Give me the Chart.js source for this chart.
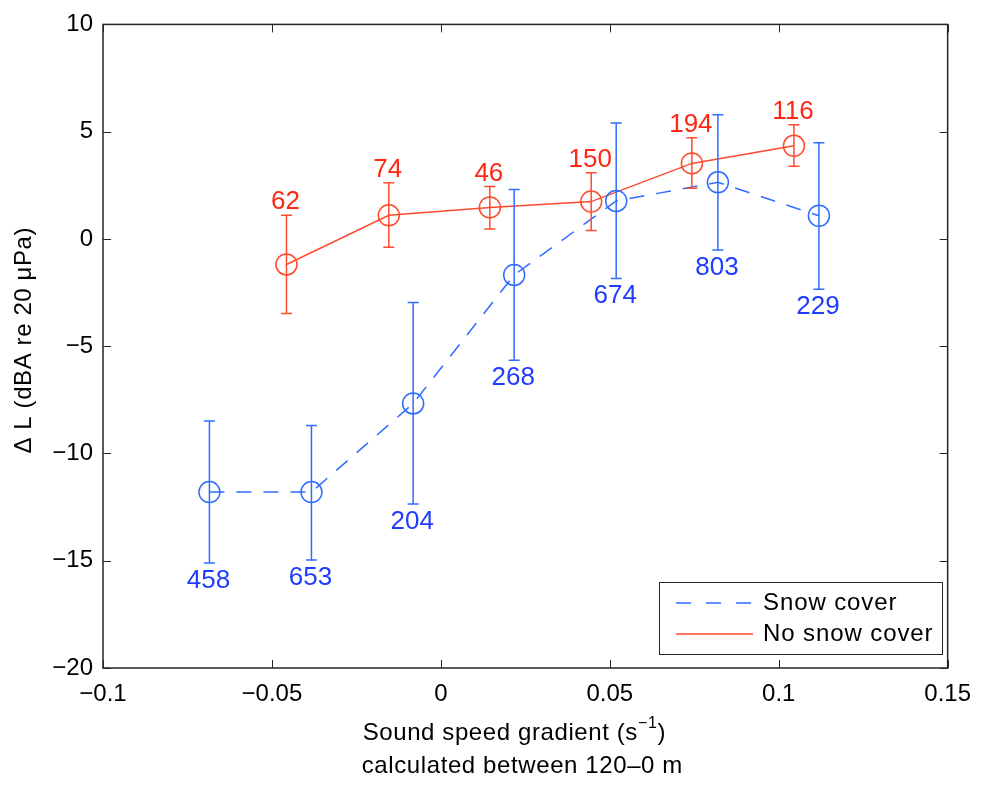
<!DOCTYPE html>
<html>
<head>
<meta charset="utf-8">
<script src="https://cdn.jsdelivr.net/npm/chart.js@4"></script>
<style>
  html, body { margin: 0; padding: 0; background: #fff; }
  #wrap { width: 983px; height: 785px; }
</style>
</head>
<body>
<div id="wrap"><canvas id="c" width="983" height="785"></canvas></div>
<script>
// ---- Data ----
const snowX  = [-0.0685, -0.0383, -0.0082, 0.0217, 0.0519, 0.0820, 0.1119];
const snowY  = [-11.8, -11.8, -7.67, -1.68, 1.77, 2.64, 1.08];
const snowHi = [-8.49, -8.7, -2.96, 2.31, 5.4, 5.79, 4.48];
const snowLo = [-15.1, -14.97, -12.35, -5.65, -1.84, -0.52, -2.35];
const snowN  = ['458', '653', '204', '268', '674', '803', '229'];

const noX  = [-0.0457, -0.0154, 0.0145, 0.0445, 0.0743, 0.1045];
const noY  = [-1.19, 1.1, 1.47, 1.74, 3.52, 4.34];
const noHi = [1.1, 2.62, 2.44, 3.09, 4.72, 5.32];
const noLo = [-3.47, -0.39, 0.46, 0.39, 2.36, 3.39];
const noN  = ['62', '74', '46', '150', '194', '116'];

const xTickVals   = [-0.1, -0.05, 0, 0.05, 0.1, 0.15];
const xTickLabels = ['\u22120.1', '\u22120.05', '0', '0.05', '0.1', '0.15'];
const yTickVals   = [-20, -15, -10, -5, 0, 5, 10];
const yTickLabels = ['\u221220', '\u221215', '\u221210', '\u22125', '0', '5', '10'];

const seriesNames = ['Snow cover', 'No snow cover'];
const yTitle = '\u0394 L (dBA re 20 \u03bcPa)';
const xTitle1a = 'Sound speed gradient (s';
const xTitle1sup = '\u22121';
const xTitle1b = ')';
const xTitle2 = 'calculated between 120\u20130 m';

// ---- Styles ----
const BLUE = '#2f6cff';
const BLUE_TXT = '#1f3dff';
const RED = '#ff4a2e';
const RED_TXT = '#ff2612';
const FONT = '"Liberation Sans", Arial, Helvetica, sans-serif';

const snowPts = snowX.map((x, i) => ({ x: x, y: snowY[i] }));
const noPts = noX.map((x, i) => ({ x: x, y: noY[i] }));

const decorPlugin = {
  id: 'decor',
  afterDatasetsDraw(chart) {
    const ctx = chart.ctx;
    const xs = chart.scales.x, ys = chart.scales.y;

    function errBars(X, Hi, Lo, color) {
      ctx.save();
      ctx.strokeStyle = color;
      ctx.lineWidth = 1.5;
      const cap = 5.5;
      X.forEach((x, i) => {
        const px = xs.getPixelForValue(x);
        const ph = ys.getPixelForValue(Hi[i]);
        const pl = ys.getPixelForValue(Lo[i]);
        ctx.beginPath();
        ctx.moveTo(px, ph); ctx.lineTo(px, pl);
        ctx.moveTo(px - cap, ph); ctx.lineTo(px + cap, ph);
        ctx.moveTo(px - cap, pl); ctx.lineTo(px + cap, pl);
        ctx.stroke();
      });
      ctx.restore();
    }
    errBars(snowX, snowHi, snowLo, BLUE);
    errBars(noX, noHi, noLo, RED);

    ctx.save();
    ctx.font = '26px ' + FONT;
    ctx.textAlign = 'center';
    ctx.textBaseline = 'alphabetic';
    ctx.fillStyle = BLUE_TXT;
    snowX.forEach((x, i) => {
      ctx.fillText(snowN[i], xs.getPixelForValue(x) - 1, ys.getPixelForValue(snowLo[i]) + 25);
    });
    ctx.fillStyle = RED_TXT;
    noX.forEach((x, i) => {
      ctx.fillText(noN[i], xs.getPixelForValue(x) - 1, ys.getPixelForValue(noHi[i]) - 6);
    });
    ctx.restore();
  },
  afterDraw(chart) {
    const ctx = chart.ctx;
    const xs = chart.scales.x, ys = chart.scales.y;
    const a = chart.chartArea;
    ctx.save();
    ctx.strokeStyle = '#262626';
    ctx.lineWidth = 1.5;
    ctx.strokeRect(a.left, a.top, a.right - a.left, a.bottom - a.top);
    ctx.lineWidth = 1;
    const tl = 8;
    ctx.beginPath();
    xTickVals.forEach(v => {
      const p = Math.round(xs.getPixelForValue(v)) + 0.5;
      ctx.moveTo(p, a.bottom); ctx.lineTo(p, a.bottom - tl);
      ctx.moveTo(p, a.top); ctx.lineTo(p, a.top + tl);
    });
    yTickVals.forEach(v => {
      const p = Math.round(ys.getPixelForValue(v)) + 0.5;
      ctx.moveTo(a.left, p); ctx.lineTo(a.left + tl, p);
      ctx.moveTo(a.right, p); ctx.lineTo(a.right - tl, p);
    });
    ctx.stroke();

    // legend
    const lx = 659, ly = 582, lw = 283, lh = 72;
    ctx.fillStyle = '#fff';
    ctx.fillRect(lx, ly, lw, lh);
    ctx.strokeStyle = '#262626';
    ctx.lineWidth = 1;
    ctx.strokeRect(lx + 0.5, ly + 0.5, lw, lh);
    ctx.lineWidth = 1.5;
    ctx.strokeStyle = BLUE;
    ctx.setLineDash([15, 15]);
    ctx.beginPath(); ctx.moveTo(676, 603); ctx.lineTo(753, 603); ctx.stroke();
    ctx.setLineDash([]);
    ctx.strokeStyle = RED;
    ctx.beginPath(); ctx.moveTo(676, 634); ctx.lineTo(753, 634); ctx.stroke();
    ctx.fillStyle = '#000';
    ctx.font = '24px ' + FONT;
    ctx.letterSpacing = '0.9px';
    ctx.textAlign = 'left';
    ctx.textBaseline = 'middle';
    ctx.fillText(seriesNames[0], 763, 603);
    ctx.fillText(seriesNames[1], 763, 634);

    // x title
    ctx.letterSpacing = '0.6px';
    ctx.textBaseline = 'alphabetic';
    ctx.font = '24px ' + FONT;
    const w1 = ctx.measureText(xTitle1a).width;
    ctx.font = '16px ' + FONT;
    const ws = ctx.measureText(xTitle1sup).width;
    ctx.font = '24px ' + FONT;
    const w2 = ctx.measureText(xTitle1b).width;
    const tot = w1 + ws + w2;
    const cx = (a.left + a.right) / 2 - 11;
    const sx = cx - tot / 2;
    ctx.fillText(xTitle1a, sx, 740);
    ctx.font = '16px ' + FONT;
    ctx.fillText(xTitle1sup, sx + w1, 728);
    ctx.font = '24px ' + FONT;
    ctx.fillText(xTitle1b, sx + w1 + ws, 740);
    ctx.textAlign = 'center';
    ctx.fillText(xTitle2, (a.left + a.right) / 2 - 3, 773);

    // y title
    ctx.translate(31, (a.top + a.bottom) / 2 - 6);
    ctx.rotate(-Math.PI / 2);
    ctx.textAlign = 'center';
    ctx.textBaseline = 'alphabetic';
    ctx.fillText(yTitle, 0, 0);
    ctx.restore();
  }
};

new Chart(document.getElementById('c'), {
  type: 'scatter',
  data: {
    datasets: [
      {
        label: seriesNames[0],
        data: snowPts,
        showLine: true,
        borderColor: BLUE,
        borderWidth: 1.5,
        borderDash: [15, 12],
        pointStyle: 'circle',
        pointRadius: 10.5,
        pointBorderWidth: 1.5,
        pointBorderColor: BLUE,
        pointBackgroundColor: 'rgba(0,0,0,0)',
        backgroundColor: 'rgba(0,0,0,0)',
        fill: false,
        tension: 0
      },
      {
        label: seriesNames[1],
        data: noPts,
        showLine: true,
        borderColor: RED,
        borderWidth: 1.5,
        pointStyle: 'circle',
        pointRadius: 10.5,
        pointBorderWidth: 1.5,
        pointBorderColor: RED,
        pointBackgroundColor: 'rgba(0,0,0,0)',
        backgroundColor: 'rgba(0,0,0,0)',
        fill: false,
        tension: 0
      }
    ]
  },
  options: {
    responsive: false,
    animation: false,
    devicePixelRatio: 1,
    layout: { padding: { left: 0, right: 30, top: 20, bottom: 0 } },
    plugins: {
      legend: { display: false },
      tooltip: { enabled: false },
      title: { display: false }
    },
    scales: {
      x: {
        type: 'linear',
        min: -0.1, max: 0.15,
        afterFit(s) { s.height = 117; },
        afterBuildTicks(s) { s.ticks = xTickVals.map(v => ({ value: v })); },
        grid: { display: false, drawTicks: false },
        border: { display: false },
        ticks: {
          padding: 12,
          color: '#000',
          font: { family: FONT, size: 24 },
          maxRotation: 0,
          autoSkip: false,
          callback: (v) => { const i = xTickVals.findIndex(t => Math.abs(t - v) < 1e-9); return i >= 0 ? xTickLabels[i] : ''; }
        }
      },
      y: {
        type: 'linear',
        min: -20, max: 10,
        afterFit(s) { s.width = 103; },
        afterBuildTicks(s) { s.ticks = yTickVals.map(v => ({ value: v })); },
        grid: { display: false, drawTicks: false },
        border: { display: false },
        ticks: {
          padding: 10,
          color: '#000',
          font: { family: FONT, size: 24 },
          autoSkip: false,
          callback: (v) => { const i = yTickVals.findIndex(t => Math.abs(t - v) < 1e-9); return i >= 0 ? yTickLabels[i] : ''; }
        }
      }
    }
  },
  plugins: [decorPlugin]
});
</script>
</body>
</html>
